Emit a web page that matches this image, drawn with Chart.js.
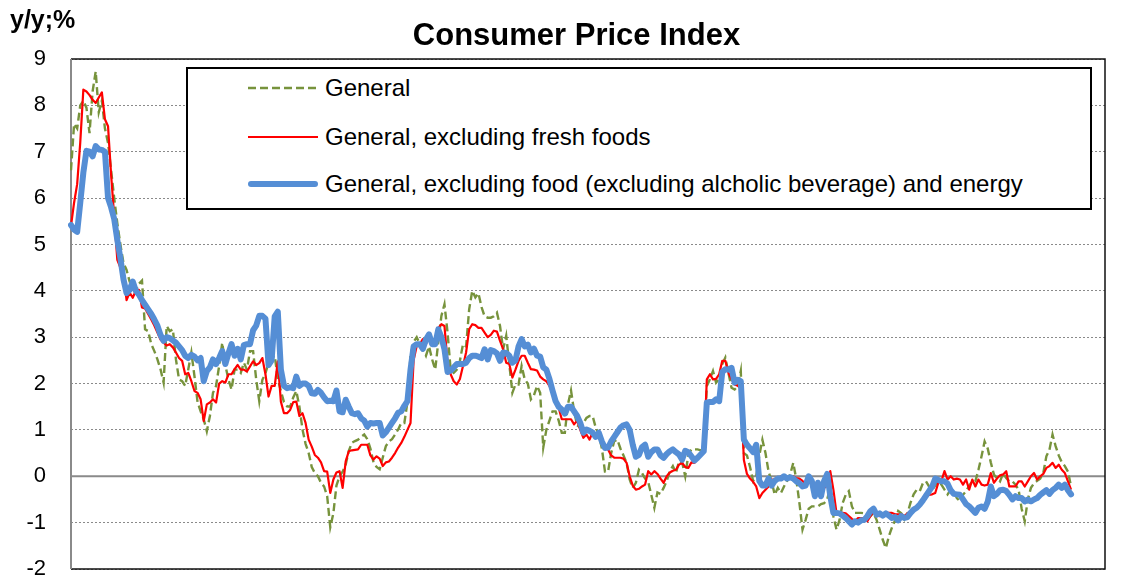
<!DOCTYPE html>
<html>
<head>
<meta charset="utf-8">
<script src="https://cdn.jsdelivr.net/npm/chart.js@4"></script>
<style>
  html, body { margin: 0; padding: 0; background: #fff; }
  #wrap { position: relative; width: 1123px; height: 585px; font-family: 'Liberation Sans', Arial, sans-serif; }
  #ytitle { position: absolute; left: 10px; top: 5px; font-size: 25px; font-weight: bold; }
  #title { position: absolute; left: 0; width: 1153px; top: 17px; text-align: center; font-size: 31px; font-weight: bold; }
  #legend { position: absolute; left: 186px; top: 67px; width: 902px; height: 139px; border: 2px solid #000; background: #fff; }
  .leg-row { position: absolute; left: 60px; height: 30px; display: flex; align-items: center; font-size: 24px; }
  .leg-row svg { width: 70px; height: 10px; margin-right: 7px; }
</style>
</head>
<body>
<div id="wrap">
  <canvas id="cpiChart" width="1123" height="585"></canvas>
  <div id="ytitle">y/y;%</div>
  <div id="title">Consumer Price Index</div>
  <div id="legend">
    <div class="leg-row" style="top:4px">
      <svg><line x1="0" y1="5" x2="70" y2="5" stroke="#77933C" stroke-width="2.5" stroke-dasharray="8,4"/></svg>General
    </div>
    <div class="leg-row" style="top:53px">
      <svg><line x1="0" y1="5" x2="70" y2="5" stroke="#FF0000" stroke-width="2.2"/></svg>General, excluding fresh foods
    </div>
    <div class="leg-row" style="top:100px">
      <svg><line x1="3" y1="5" x2="67" y2="5" stroke="#558ED5" stroke-width="6" stroke-linecap="round"/></svg>General, excluding food (excluding alcholic beverage) and energy
    </div>
  </div>
</div>
<script>
// =============================================
// DATA (monthly, y/y %, Jan 1980 onward)
// =============================================
const years = [1980, 1981, 1982, 1983, 1984, 1985, 1986, 1987, 1988, 1989, 1990, 1991, 1992, 1993,
  1994, 1995, 1996, 1997, 1998, 1999, 2000, 2001, 2002, 2003, 2004, 2005, 2006, 2007];
const months = ['01', '02', '03', '04', '05', '06', '07', '08', '09', '10', '11', '12'];

const general = [
  6.6, 7.6, 7.5, 8.0, 8.1, 7.95, 7.4, 8.3, 8.73, 7.85, 8.1, 7.5,
  7.19, 6.6, 6.0, 5.46, 5.0, 4.6, 4.45, 4.2, 4.05, 4.0, 4.15, 4.22,
  3.17, 3.13, 2.85, 2.7, 2.52, 2.31, 2.02, 3.24, 3.13, 3.17, 2.52, 2.09,
  2.05, 1.95, 2.31, 2.67, 2.16, 1.6, 1.4, 1.23, 0.97, 1.3, 1.8, 1.95,
  2.38, 2.88, 2.4, 2.09, 1.87, 2.3, 2.3, 2.23, 2.45, 2.3, 2.7, 2.7,
  2.09, 1.62, 2.08, 2.22, 2.45, 2.55, 2.6, 2.1, 1.84, 1.6, 1.51, 1.5,
  1.7, 1.84, 1.5, 1.01, 0.7, 0.5, 0.2, 0.07, 0.0, -0.14, -0.22, -0.43,
  -1.1, -0.8, -0.2, 0.0, 0.1, 0.25, 0.55, 0.72, 0.76, 0.79, 0.85, 0.9,
  0.8, 0.6, 0.3, 0.2, 0.15, 0.4, 0.65, 0.75, 0.8, 0.9, 1.01, 1.15,
  1.15, 1.6, 2.6, 2.9, 3.0, 2.85, 2.74, 2.6, 2.8, 2.52, 2.3, 2.9,
  3.46, 3.71, 3.1, 2.3, 2.23, 2.3, 2.49, 2.85, 2.8, 3.6, 4.0, 3.86,
  3.95, 3.65, 3.45, 3.42, 3.42, 3.45, 3.53, 3.24, 2.74, 3.03, 2.42, 1.8,
  1.98, 1.98, 2.38, 2.09, 2.0, 1.66, 1.75, 1.95, 1.8, 0.62, 1.0, 1.2,
  1.4, 1.4, 1.2, 0.94, 0.94, 1.55, 1.85, 1.4, 1.1, 1.05, 1.15, 1.26,
  1.3, 1.3, 1.05, 0.9, 0.6, 0.1, 0.1, 0.5, 0.76, 0.79, 0.6, 0.45,
  0.29, -0.07, -0.25, -0.14, 0.14, 0.07, -0.05, -0.12, -0.4, -0.68, -0.35, -0.38,
  -0.25, -0.1, 0.11, 0.22, 0.07, 0.33, 0.3, 0.0, 0.47, 0.58, 0.58, 0.58,
  0.56, 0.58, 1.95, 2.09, 2.27, 2.02, 2.1, 2.42, 2.56, 2.23, 1.91, 1.87,
  1.94, 2.27, 0.5, 0.45, 0.2, -0.1, 0.0, 0.45, 0.79, 0.5, 0.1, -0.11,
  -0.4, -0.25, -0.36, -0.22, -0.1, 0.04, 0.29, -0.07, -0.58, -1.15, -0.94, -0.7,
  -0.65, -0.65, -0.65, -0.6, -0.58, -0.5, -0.22, -0.86, -1.15, -0.94, -0.58, -0.4,
  -0.32, -0.65, -0.79, -0.79, -0.79, -0.8, -0.8, -0.86, -0.79, -0.94, -1.15, -1.37,
  -1.55, -1.29, -1.1, -0.95, -0.75, -0.8, -0.93, -0.8, -0.57, -0.39, -0.29, -0.32,
  -0.15, -0.11, -0.22, -0.29, -0.2, -0.11, -0.18, -0.29, -0.39, -0.29, -0.32, -0.47,
  -0.54, -0.4, -0.32, -0.2, -0.11, -0.11, 0.14, 0.43, 0.75, 0.6, 0.3, 0.04,
  -0.04, -0.11, 0.07, -0.04, -0.11, -0.11, -0.18, -0.29, -0.7, -0.97, -0.5, -0.25,
  -0.15, -0.1, -0.05, 0.07, 0.43, 0.57, 0.9, 0.65, 0.45, 0.3, 0.22, 0.1,
  -0.22
];

const exFresh = [
  5.4, 5.9, 6.3, 7.2, 8.34, 8.3, 8.22, 8.12, 8.05, 8.17, 8.28, 7.7,
  7.55, 6.5, 5.6, 4.67, 4.5, 4.38, 3.8, 3.96, 3.85, 4.0, 4.02, 3.64,
  3.62, 3.5, 3.38, 3.25, 3.1, 2.95, 2.88, 2.82, 2.85, 2.78, 2.67, 2.55,
  2.49, 2.2, 2.23, 2.05, 1.84, 1.8, 1.66, 1.19, 1.55, 1.59, 1.66, 1.59,
  2.0, 2.05, 2.02, 2.2, 2.2, 2.31, 2.4, 2.3, 2.3, 2.26, 2.37, 2.48,
  2.4, 2.44, 2.55, 2.2, 1.72, 1.95, 1.95, 2.48, 1.61, 1.36, 1.36, 1.43,
  1.6, 1.61, 1.3, 1.36, 1.15, 0.79, 0.64, 0.46, 0.4, 0.3, 0.11, 0.1,
  -0.36, -0.07, 0.08, 0.11, -0.25, 0.32, 0.54, 0.56, 0.57, 0.58, 0.68, 0.68,
  0.68, 0.45, 0.36, 0.43, 0.38, 0.22, 0.3, 0.32, 0.4, 0.5, 0.62, 0.72,
  0.85, 1.0, 1.15, 2.5, 2.81, 2.85, 2.96, 2.85, 3.03, 2.9, 2.97, 3.2,
  3.28, 3.24, 2.45, 2.2, 2.05, 1.98, 2.1, 2.38, 2.67, 3.17, 3.28, 3.26,
  3.2, 3.2, 3.1, 3.0, 3.05, 3.14, 3.12, 2.92, 2.74, 2.45, 2.42, 2.13,
  2.3, 2.49, 2.6, 2.6, 2.45, 2.31, 2.3, 2.28, 2.15, 2.09, 2.05, 1.95,
  1.8, 1.66, 1.48, 1.23, 1.23, 1.23, 1.23, 1.12, 1.2, 1.0, 0.83, 0.9,
  0.79, 0.95, 0.86, 0.97, 0.72, 0.65, 0.58, 0.45, 0.4, 0.4, 0.4, 0.38,
  0.29, 0.0, -0.2, -0.29, -0.27, -0.22, -0.18, 0.11, 0.04, 0.11, 0.05, -0.05,
  -0.14, 0.0, 0.08, 0.12, 0.14, 0.25, 0.29, 0.2, 0.18, 0.3, 0.29, 0.38,
  0.45, 0.5, 2.09, 2.2, 2.09, 2.1, 2.2, 2.49, 2.49, 2.23, 2.1, 1.98,
  1.95, 1.9, 0.35, 0.05, -0.05, -0.12, -0.22, -0.47, -0.36, -0.29, -0.22, -0.07,
  -0.07, -0.05, 0.0, 0.0, 0.0, 0.0, 0.0, -0.04, -0.05, -0.1, -0.18, -0.05,
  -0.05, -0.22, -0.25, -0.29, -0.25, -0.2, 0.11, -0.29, -0.79, -0.79, -0.79, -0.8,
  -0.86, -0.92, -0.97, -0.9, -0.9, -0.9, -0.97, -0.86, -0.76, -0.8, -0.86, -0.82,
  -0.79, -0.79, -0.79, -0.82, -0.82, -0.82, -0.86, -0.8, -0.75, -0.72, -0.66, -0.61,
  -0.56, -0.43, -0.4, -0.39, -0.36, -0.14, -0.1, 0.11, -0.07, 0.0, -0.07, -0.05,
  -0.07, -0.18, -0.07, -0.29, -0.07, -0.22, -0.07, -0.18, -0.2, -0.18, 0.07, -0.14,
  -0.05, 0.02, 0.04, 0.11, -0.22, -0.22, -0.22, -0.11, -0.11, -0.22, -0.11, 0.0,
  0.07, -0.07, 0.0, 0.05, 0.18, 0.22, 0.29, 0.18, 0.25, 0.14, 0.07, -0.11,
  -0.29
];

const exFoodEnergy = [
  5.42, 5.32, 5.27, 5.9, 6.55, 7.02, 7.0, 6.9, 7.12, 7.05, 7.04, 7.0,
  6.0, 5.8, 5.55, 5.1, 4.7, 4.25, 3.95, 4.02, 4.2, 4.0, 3.92, 3.8,
  3.7, 3.6, 3.5, 3.38, 3.25, 3.05, 2.92, 3.0, 2.98, 2.93, 2.88, 2.8,
  2.72, 2.6, 2.55, 2.62, 2.58, 2.5, 2.55, 2.05, 2.27, 2.35, 2.52, 2.42,
  2.55, 2.7, 2.42, 2.65, 2.85, 2.6, 2.75, 2.52, 2.83, 2.85, 2.85, 3.15,
  3.25, 3.46, 3.46, 3.4, 2.4, 2.5, 3.45, 3.55, 2.3, 1.95, 1.9, 1.92,
  1.9, 2.15, 1.95, 2.0, 2.0, 1.95, 1.79, 1.78, 1.86, 1.8, 1.7, 1.62,
  1.63, 1.62, 1.85, 1.4, 1.38, 1.65, 1.5, 1.36, 1.34, 1.36, 1.25, 1.2,
  1.07, 1.15, 1.14, 1.15, 1.15, 0.88, 0.95, 1.05, 1.15, 1.25, 1.37, 1.4,
  1.52, 1.62, 2.3, 2.8, 2.85, 2.85, 2.75, 2.95, 3.06, 2.85, 2.85, 3.17,
  3.0, 2.74, 2.25, 2.28, 2.35, 2.42, 2.42, 2.42, 2.45, 2.55, 2.6, 2.6,
  2.58, 2.55, 2.74, 2.52, 2.72, 2.7, 2.65, 2.49, 2.67, 2.66, 2.6, 2.45,
  2.5, 2.8, 2.96, 2.8, 2.84, 2.67, 2.75, 2.6, 2.58, 2.35, 2.3, 2.1,
  1.85, 1.62, 1.5, 1.44, 1.35, 1.5, 1.5, 1.4, 1.3, 1.15, 0.94, 1.01,
  0.98, 0.94, 0.85, 0.94, 0.75, 0.61, 0.62, 0.75, 0.85, 0.95, 1.05, 1.1,
  1.12, 1.0, 0.68, 0.42, 0.46, 0.63, 0.68, 0.42, 0.52, 0.58, 0.58, 0.45,
  0.4, 0.48, 0.54, 0.58, 0.52, 0.47, 0.36, 0.55, 0.52, 0.43, 0.34, 0.4,
  0.47, 0.54, 1.59, 1.6, 1.6, 1.66, 1.62, 2.25, 2.31, 2.3, 2.34, 2.02,
  2.08, 2.05, 0.79, 0.68, 0.6, 0.52, 0.68, -0.1, -0.2, -0.2, -0.05, -0.2,
  -0.1, -0.05, -0.05, 0.0, -0.05, -0.02, -0.05, -0.11, -0.15, -0.22, -0.2, 0.0,
  -0.1, -0.43, -0.14, -0.43, -0.1, 0.05, -0.43, -0.79, -0.79, -0.8, -0.85, -0.9,
  -0.97, -1.04, -0.97, -1.0, -0.95, -0.94, -0.86, -0.75, -0.7, -0.83, -0.8, -0.85,
  -0.8, -0.85, -0.9, -0.88, -0.95, -0.86, -0.9, -0.88, -0.79, -0.72, -0.68, -0.61,
  -0.52, -0.42, -0.32, -0.22, -0.05, -0.08, -0.11, -0.11, -0.16, -0.3, -0.38, -0.39,
  -0.4, -0.5, -0.6, -0.65, -0.72, -0.79, -0.68, -0.65, -0.7, -0.55, -0.22, -0.43,
  -0.38, -0.3, -0.29, -0.32, -0.4, -0.5, -0.43, -0.47, -0.47, -0.54, -0.5, -0.54,
  -0.5, -0.47, -0.4, -0.35, -0.3, -0.38, -0.3, -0.25, -0.18, -0.25, -0.18, -0.3,
  -0.39
];

const labels = [];
years.forEach(y => months.forEach(m => labels.push(y + '-' + m)));

// =============================================
// PLOT FRAME + ZERO LINE
// =============================================
const framePlugin = {
  id: 'frame',
  beforeDatasetsDraw(chart) {
    const { ctx, chartArea: a, scales: { y } } = chart;
    const y0 = y.getPixelForValue(0);
    ctx.save();
    ctx.strokeStyle = '#8a8a8a';
    ctx.lineWidth = 2;
    ctx.beginPath();
    ctx.moveTo(a.left, y0);
    ctx.lineTo(a.right, y0);
    ctx.stroke();

    ctx.strokeStyle = '#111';
    ctx.lineWidth = 1.5;
    ctx.beginPath();
    ctx.moveTo(a.left, a.top);
    ctx.lineTo(a.right, a.top);
    ctx.lineTo(a.right, a.bottom);
    ctx.lineTo(a.left, a.bottom);
    ctx.stroke();

    ctx.strokeStyle = '#8a8a8a';
    ctx.lineWidth = 2;
    ctx.beginPath();
    ctx.moveTo(a.left, a.top);
    ctx.lineTo(a.left, a.bottom);
    ctx.stroke();
    ctx.restore();
  }
};

// =============================================
// CHART
// =============================================
new Chart(document.getElementById('cpiChart'), {
  type: 'line',
  data: {
    labels,
    datasets: [
      { label: 'General', data: general, borderColor: '#77933C', borderWidth: 2.4,
        borderDash: [8, 4], pointRadius: 0, order: 3 },
      { label: 'General, excluding fresh foods', data: exFresh, borderColor: '#FF0000',
        borderWidth: 2.2, pointRadius: 0, borderJoinStyle: 'round', order: 2 },
      { label: 'General, excluding food (excluding alcholic beverage) and energy', data: exFoodEnergy,
        borderColor: '#558ED5', borderWidth: 6, pointRadius: 0, borderJoinStyle: 'round',
        borderCapStyle: 'round', order: 1 }
    ]
  },
  options: {
    responsive: false,
    animation: false,
    layout: { padding: { top: 59, bottom: 16, left: 0, right: 18 } },
    plugins: { legend: { display: false }, tooltip: { enabled: false } },
    scales: {
      x: { display: false },
      y: {
        min: -2, max: 9,
        afterFit: s => { s.width = 71; },
        ticks: { stepSize: 1, padding: 0, color: '#000', font: { family: 'Liberation Sans', size: 22 } },
        grid: { color: '#8a8a8a', lineWidth: 1, drawTicks: true, tickLength: 25, tickColor: 'rgba(0,0,0,0)' },
        border: { display: false, dash: [2, 2] }
      }
    }
  },
  plugins: [framePlugin]
});
</script>
</body>
</html>
